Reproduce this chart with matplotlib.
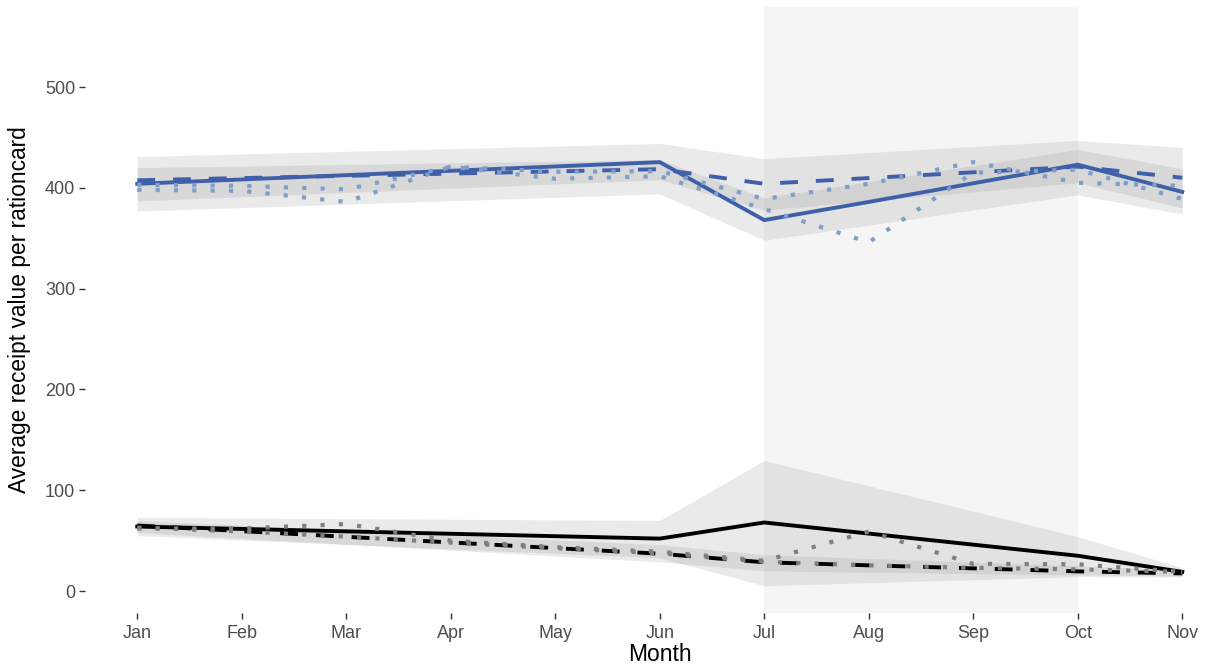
import matplotlib
matplotlib.use("Agg")
import matplotlib.pyplot as plt
import numpy as np

# ---------------------------------------------------------------------------
# Data
# ---------------------------------------------------------------------------
months = ["Jan", "Feb", "Mar", "Apr", "May", "Jun", "Jul", "Aug", "Sep", "Oct", "Nov"]

# treated group (blue)
blue_fit = [404, 408.3, 412.6, 416.9, 421.2, 425.5, 368, 386, 404.5, 423, 396]
blue_cf = [407.5, 409.7, 411.9, 414.1, 416.3, 418.5, 404, 409.7, 415.4, 421, 410]
blue_obs_a = [403, 402, 398.5, 421, 416, 416.5, 389, 404, 425.5, 405, 402]
blue_obs_b = [398, 397, 386, 421, 409, 411.5, 379, 346, 415, 418, 389]
blue_fit_lo = [377, 380.4, 383.8, 387.2, 390.6, 394, 348, 363, 378, 393, 374]
blue_fit_hi = [420, 421.6, 423.2, 424.8, 426.4, 428, 390, 406, 422, 438, 419]
blue_cf_lo = [387, 391.2, 395.4, 399.6, 403.8, 408, 378, 387, 396, 405, 380]
blue_cf_hi = [431, 433.6, 436.2, 438.8, 441.4, 444, 429, 435, 441, 447, 440]

# control group (black)
black_fit = [64, 61.6, 59.2, 56.8, 54.4, 52, 68, 57, 46, 35, 19]
black_cf = [65, 59.4, 53.8, 48.2, 42.6, 37, 28.5, 25.5, 22.5, 19.5, 17.5]
black_obs_a = [62, 62, 66.5, 50, 43.5, 39, 30, 59, 27, 26.5, 19]
black_obs_b = [63, 59, 54, 48, 42.5, 37.5, 29, 25.5, 23, 21.5, 19]
black_fit_lo = [55, 50.6, 46.2, 41.8, 37.4, 33, 5.3, 8.3, 11.2, 14.2, 14]
black_fit_hi = [73, 72.4, 71.8, 71.2, 70.6, 70, 129.5, 104.3, 79.2, 54, 23]
black_cf_lo = [58, 52.2, 46.4, 40.6, 34.8, 29, 20, 18.7, 17.3, 16, 15]
black_cf_hi = [70, 65.2, 60.4, 55.6, 50.8, 46, 36, 32.3, 28.7, 25, 21]

period_start, period_end = "Jul", "Oct"

# ---------------------------------------------------------------------------
# Plot
# ---------------------------------------------------------------------------
plt.rcParams["font.family"] = ["Liberation Sans", "DejaVu Sans"]

BLUE = "#3F60A8"
LIGHTBLUE = "#7F9FCB"
GREY_DOT = "#7F7F7F"

x = np.arange(len(months))

fig = plt.figure(figsize=(12.11, 6.71), dpi=100)
# panel spans past the right edge (the original export was cropped)
ax = fig.add_axes([85 / 1211, 1 - 613 / 671, 1149.5 / 1211, 606 / 671])

ax.axvspan(months.index(period_start), months.index(period_end),
           color="#F5F5F5", lw=0, zorder=0)

for lo, hi in [(blue_fit_lo, blue_fit_hi), (blue_cf_lo, blue_cf_hi),
               (black_fit_lo, black_fit_hi), (black_cf_lo, black_cf_hi)]:
    ax.fill_between(x, lo, hi, color="#7F7F7F", alpha=0.16, lw=0, zorder=1)

dot = (0, (1, 3.4))
dash = (0, (4.6, 4.6))
for fit, cf, obs_a, obs_b, c_line, c_dot in [
        (blue_fit, blue_cf, blue_obs_a, blue_obs_b, BLUE, LIGHTBLUE),
        (black_fit, black_cf, black_obs_a, black_obs_b, "black", GREY_DOT)]:
    ax.plot(x, fit, color=c_line, lw=2.8, solid_joinstyle="miter", zorder=3)
    ax.plot(x, cf, color=c_line, lw=2.8, linestyle=dash,
            dash_capstyle="butt", zorder=3)
    for obs in (obs_a, obs_b):
        ax.plot(x, obs, color=c_dot, lw=3.0, linestyle=dot,
                dash_capstyle="butt", zorder=4)

ax.set_xlim(-0.5, 10.5)
ax.set_ylim(-21.8, 579.4)
ax.set_xticks(x)
ax.set_xticklabels(months)
ax.set_yticks([0, 100, 200, 300, 400, 500])

for s in ax.spines.values():
    s.set_visible(False)
ax.tick_params(axis="both", length=4, width=1.0, color="#333333",
               labelcolor="#4D4D4D", labelsize=13, pad=3)
ax.tick_params(axis="x", pad=5)

ax.set_ylabel("Average receipt value per rationcard", fontsize=16.4, color="black")
ax.yaxis.set_label_coords((31 - 85) / 1149.5, 0.5)
ax.set_xlabel("Month", fontsize=16.4, color="black")
ax.xaxis.set_label_coords(0.5, (613 - 643) / 606)

fig.savefig("out.png", dpi=100)
